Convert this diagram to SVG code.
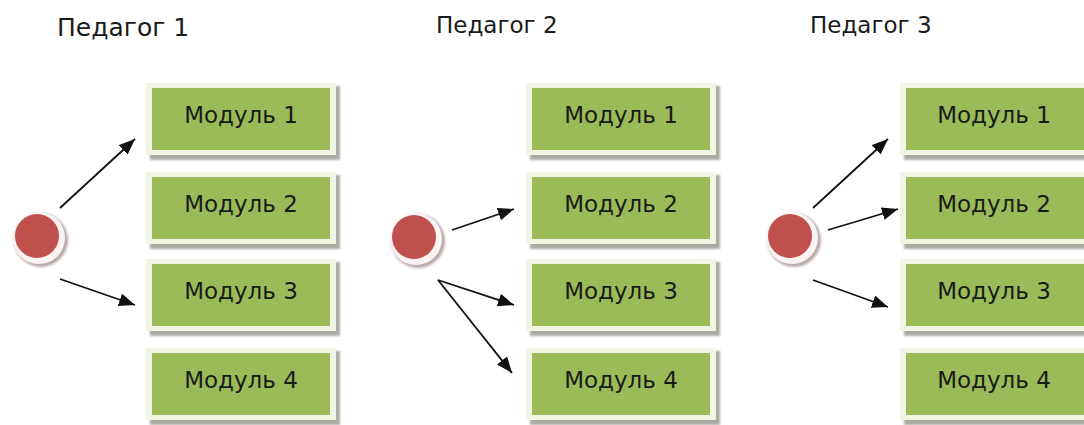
<svg xmlns="http://www.w3.org/2000/svg" width="1084" height="425" viewBox="0 0 1084 425">
  <defs>
    <style>
      .title { font-family: "DejaVu Sans", "Liberation Sans", sans-serif; font-size: 23px; fill: #1a1a1a; }
      .mtext { font-family: "DejaVu Sans", "Liberation Sans", sans-serif; font-size: 23px; fill: #1a1a1a; text-anchor: middle; }
      .shadow { fill: #a9aaa2; filter: url(#soft); }
      .frame { fill: #f3f5e4; }
      .green { fill: #9bbb59; }
      .conn { stroke: #111; stroke-width: 1.8; fill: none; marker-end: url(#arr); }
      .ringsh { fill: #b9a9a9; filter: url(#soft); }
      .ring { fill: #fbf3f3; }
      .dot { fill: #c0504d; }
    </style>
    <filter id="soft" x="-20%" y="-20%" width="140%" height="140%">
      <feGaussianBlur stdDeviation="1.2"/>
    </filter>
    <marker id="arr" markerUnits="userSpaceOnUse" markerWidth="17" markerHeight="13" refX="16" refY="6.5" orient="auto">
      <path d="M0,0 L16,6.5 L0,13 z" fill="#111"/>
    </marker>
  </defs>
  <rect width="1084" height="425" fill="#ffffff"/>

  <g id="titles">
    <text class="title" x="57" y="36" style="font-size:25px">Педагог 1</text>
    <text class="title" x="436" y="33">Педагог 2</text>
    <text class="title" x="810" y="33">Педагог 3</text>
  </g>

  <!-- Column 1 -->
  <g id="p1-m1"><rect class="shadow" x="150" y="86" width="190" height="74"/><rect class="frame" x="146" y="83" width="190" height="72"/><rect class="green" x="152" y="88" width="178" height="62"/><text class="mtext" x="241" y="123">Модуль 1</text></g>
  <g id="p1-m2"><rect class="shadow" x="150" y="175" width="190" height="74"/><rect class="frame" x="146" y="172" width="190" height="72"/><rect class="green" x="152" y="177" width="178" height="62"/><text class="mtext" x="241" y="212">Модуль 2</text></g>
  <g id="p1-m3"><rect class="shadow" x="150" y="262" width="190" height="74"/><rect class="frame" x="146" y="259" width="190" height="72"/><rect class="green" x="152" y="264" width="178" height="62"/><text class="mtext" x="241" y="299">Модуль 3</text></g>
  <g id="p1-m4"><rect class="shadow" x="150" y="351" width="190" height="74"/><rect class="frame" x="146" y="348" width="190" height="72"/><rect class="green" x="152" y="353" width="178" height="62"/><text class="mtext" x="241" y="388">Модуль 4</text></g>
  <g id="p1-dot"><circle class="ringsh" cx="41" cy="240" r="27"/><circle class="ring" cx="39" cy="238" r="26"/><circle class="dot" cx="37" cy="236" r="22"/></g>

  <!-- Column 2 -->
  <g id="p2-m1"><rect class="shadow" x="530" y="86" width="190" height="74"/><rect class="frame" x="526" y="83" width="190" height="72"/><rect class="green" x="532" y="88" width="178" height="62"/><text class="mtext" x="621" y="123">Модуль 1</text></g>
  <g id="p2-m2"><rect class="shadow" x="530" y="175" width="190" height="74"/><rect class="frame" x="526" y="172" width="190" height="72"/><rect class="green" x="532" y="177" width="178" height="62"/><text class="mtext" x="621" y="212">Модуль 2</text></g>
  <g id="p2-m3"><rect class="shadow" x="530" y="262" width="190" height="74"/><rect class="frame" x="526" y="259" width="190" height="72"/><rect class="green" x="532" y="264" width="178" height="62"/><text class="mtext" x="621" y="299">Модуль 3</text></g>
  <g id="p2-m4"><rect class="shadow" x="530" y="351" width="190" height="74"/><rect class="frame" x="526" y="348" width="190" height="72"/><rect class="green" x="532" y="353" width="178" height="62"/><text class="mtext" x="621" y="388">Модуль 4</text></g>
  <g id="p2-dot"><circle class="ringsh" cx="418" cy="241" r="27"/><circle class="ring" cx="416" cy="239" r="26"/><circle class="dot" cx="414" cy="237" r="22"/></g>

  <!-- Column 3 -->
  <g id="p3-m1"><rect class="shadow" x="904" y="86" width="190" height="74"/><rect class="frame" x="900" y="83" width="190" height="72"/><rect class="green" x="906" y="88" width="178" height="62"/><text class="mtext" x="994" y="123">Модуль 1</text></g>
  <g id="p3-m2"><rect class="shadow" x="904" y="175" width="190" height="74"/><rect class="frame" x="900" y="172" width="190" height="72"/><rect class="green" x="906" y="177" width="178" height="62"/><text class="mtext" x="994" y="212">Модуль 2</text></g>
  <g id="p3-m3"><rect class="shadow" x="904" y="262" width="190" height="74"/><rect class="frame" x="900" y="259" width="190" height="72"/><rect class="green" x="906" y="264" width="178" height="62"/><text class="mtext" x="994" y="299">Модуль 3</text></g>
  <g id="p3-m4"><rect class="shadow" x="904" y="351" width="190" height="74"/><rect class="frame" x="900" y="348" width="190" height="72"/><rect class="green" x="906" y="353" width="178" height="62"/><text class="mtext" x="994" y="388">Модуль 4</text></g>
  <g id="p3-dot"><circle class="ringsh" cx="794" cy="240" r="27"/><circle class="ring" cx="792" cy="238" r="26"/><circle class="dot" cx="790" cy="236" r="22"/></g>

  <g id="connectors">
    <line class="conn" x1="60" y1="208" x2="135" y2="139"/>
    <line class="conn" x1="60" y1="279" x2="135" y2="305"/>
    <line class="conn" x1="452" y1="230" x2="514" y2="209"/>
    <line class="conn" x1="438" y1="280" x2="514" y2="305"/>
    <line class="conn" x1="438" y1="280" x2="512" y2="373"/>
    <line class="conn" x1="813" y1="208" x2="888" y2="139"/>
    <line class="conn" x1="828" y1="230" x2="898" y2="209"/>
    <line class="conn" x1="813" y1="280" x2="888" y2="307"/>
  </g>
</svg>
